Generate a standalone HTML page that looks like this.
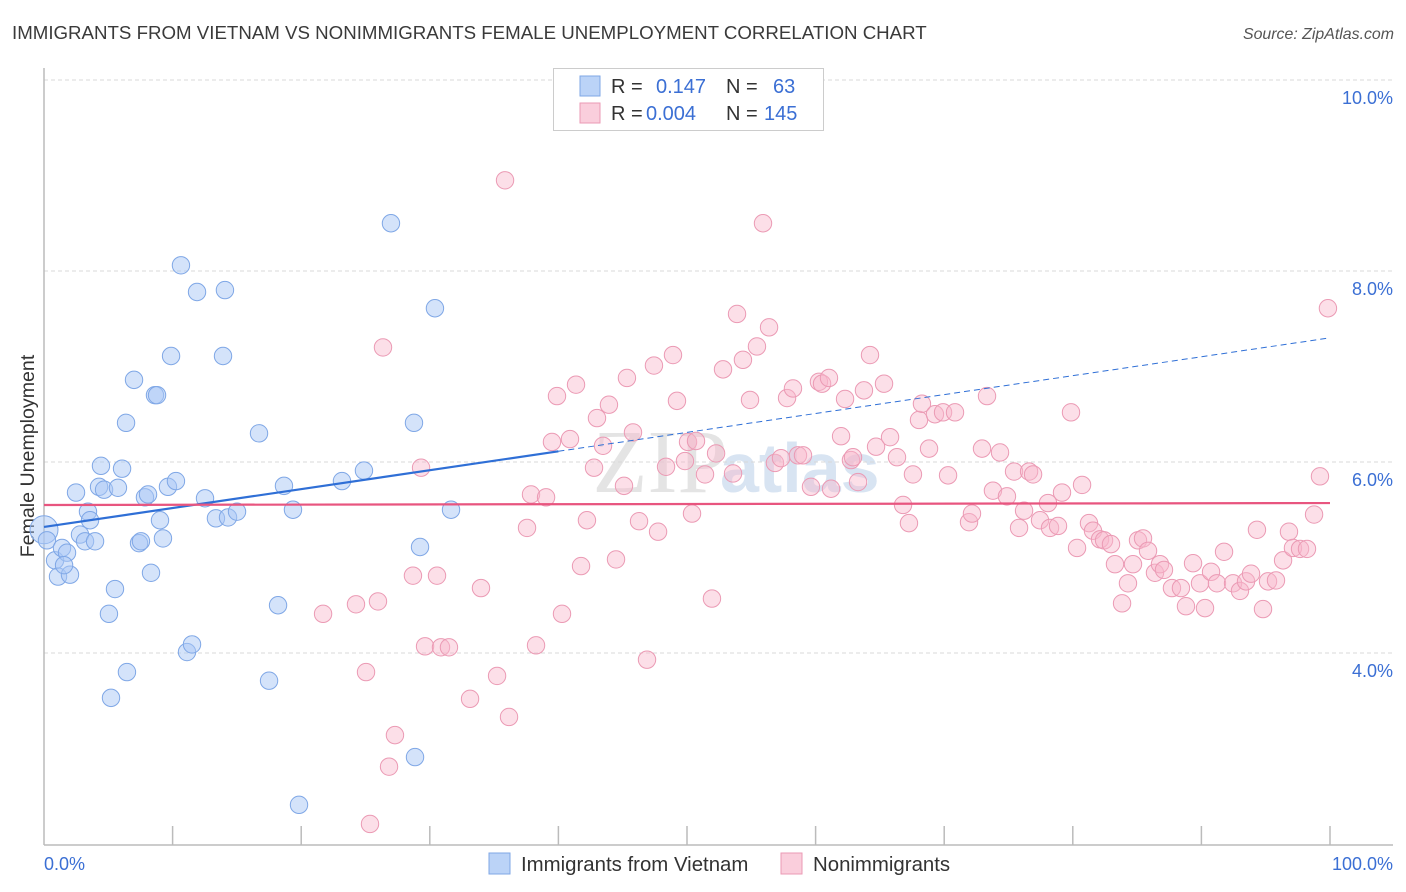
<!DOCTYPE html>
<html><head><meta charset="utf-8">
<style>
body{margin:0;background:#fff;width:1406px;height:892px;overflow:hidden;font-family:"Liberation Sans",sans-serif;}
svg{position:absolute;left:0;top:0}
</style></head>
<body>
<svg id="chart" width="1406" height="892"></svg>
<script>
const blueX=[0,.23,.86,1.09,1.40,1.79,2.02,1.56,2.49,2.80,3.19,3.42,3.58,3.97,4.28,4.43,4.67,5.05,5.52,5.75,6.07,6.38,6.45,5.21,7.00,7.39,7.54,7.85,8.09,8.32,8.63,8.79,9.02,9.25,9.64,9.88,10.26,10.65,11.12,11.51,11.90,12.52,13.37,13.92,14.07,14.31,15.01,16.72,17.50,18.20,18.66,19.36,19.83,23.17,24.88,26.98,28.77,28.85,29.24,30.40,31.65];
const blueY=[5.29,5.18,4.97,4.80,5.10,5.05,4.82,4.92,5.68,5.24,5.17,5.48,5.39,5.17,5.74,5.96,5.71,4.41,4.67,5.73,5.93,6.41,3.80,3.53,6.86,5.15,5.17,5.63,5.66,4.84,6.70,6.70,5.39,5.20,5.74,7.11,5.80,8.06,4.01,4.09,7.78,5.62,5.41,7.11,7.80,5.42,5.48,6.30,3.71,4.50,5.75,5.50,2.41,5.80,5.91,8.50,6.41,2.91,5.11,7.61,5.50];
const pinkX=[21.70,24.26,25.04,25.35,25.97,26.36,26.83,27.29,28.69,29.32,29.63,30.56,30.87,31.49,33.13,33.98,35.23,35.85,36.16,37.56,37.87,38.26,39.04,39.50,39.89,40.28,40.90,41.37,41.76,42.22,42.77,43.00,43.47,43.93,44.48,45.10,45.33,45.80,46.27,46.89,47.43,47.75,48.37,48.91,49.22,49.84,50.08,50.39,50.70,51.40,51.94,52.26,52.80,53.58,53.89,54.35,54.90,55.44,55.91,56.38,56.84,57.31,57.78,58.24,58.63,59.02,59.64,60.26,60.50,61.04,61.20,61.98,62.29,62.75,62.91,63.30,63.76,64.23,64.70,65.32,65.79,66.33,66.80,67.26,67.57,68.04,68.27,68.82,69.28,69.91,70.30,70.84,71.93,72.16,72.94,73.33,73.79,74.34,74.88,75.43,75.82,76.21,76.60,76.91,77.45,78.07,78.23,78.85,79.16,79.86,80.33,80.72,81.26,81.57,82.12,82.43,82.97,83.28,83.83,84.29,84.68,85.07,85.46,85.85,86.39,86.78,87.09,87.71,88.41,88.80,89.35,89.89,90.28,90.75,91.21,91.76,92.46,93.00,93.47,93.86,94.32,94.79,95.18,95.80,96.35,96.81,97.12,97.67,98.21,98.76,99.22,99.84];
const pinkY=[4.41,4.51,3.80,2.21,4.54,7.20,2.81,3.14,4.81,5.94,4.07,4.81,4.06,4.06,3.52,4.68,3.76,8.95,3.33,5.31,5.66,4.08,5.63,6.21,6.69,4.41,6.24,6.81,4.91,5.39,5.94,6.46,6.17,6.60,4.98,5.75,6.88,6.31,5.38,3.93,7.01,5.27,5.95,7.12,6.64,6.01,6.21,5.46,6.22,5.87,4.57,6.09,6.97,5.88,7.55,7.07,6.65,7.21,8.50,7.41,5.99,6.04,6.67,6.77,6.07,6.07,5.74,6.84,6.82,6.88,5.72,6.27,6.66,6.02,6.05,5.79,6.75,7.12,6.16,6.82,6.26,6.05,5.55,5.36,5.87,6.44,6.61,6.14,6.50,6.52,5.86,6.52,5.37,5.46,6.14,6.69,5.70,6.10,5.64,5.90,5.31,5.49,5.90,5.87,5.39,5.57,5.31,5.33,5.68,6.52,5.10,5.76,5.36,5.28,5.19,5.18,5.14,4.93,4.52,4.73,4.93,5.18,5.20,5.07,4.84,4.93,4.87,4.68,4.68,4.49,4.94,4.73,4.47,4.85,4.73,5.06,4.73,4.65,4.75,4.83,5.29,4.46,4.75,4.76,4.97,5.27,5.10,5.09,5.09,5.45,5.85,7.61];
const yTicks=[4,6,8,10];
const yTickLabels=["4.0%","6.0%","8.0%","10.0%"];
const blueLine=[5.32,7.30]; // y at 0% and 100%
const pinkLine=[5.55,5.57];

const NS="http://www.w3.org/2000/svg";
const svg=document.getElementById('chart');
const X=v=>44+v*12.86;
const Y=v=>80+(10-v)*95.5;
function mk(t,a,p){const e=document.createElementNS(NS,t);for(const k in a)e.setAttribute(k,a[k]);(p||svg).appendChild(e);return e;}

let t=mk('text',{x:12,y:39,'font-size':18.7,fill:'#3a3a3a'});t.textContent='IMMIGRANTS FROM VIETNAM VS NONIMMIGRANTS FEMALE UNEMPLOYMENT CORRELATION CHART';


t=mk('text',{x:1394,y:39,'font-size':15.9,fill:'#555','text-anchor':'end','font-style':'italic'});t.textContent='Source: ZipAtlas.com';



t=mk('text',{x:660,y:492,'font-size':90,fill:'#e4e4e4','text-anchor':'middle','font-family':'Liberation Serif, serif'});t.textContent='ZIP';


t=mk('text',{x:720,y:492,'font-size':70,fill:'#d8e4f2','font-weight':'bold'});t.textContent='atlas';



yTicks.forEach((v,i)=>{
  const g=mk('line',{x1:44,x2:1393,y1:Y(v),y2:Y(v),stroke:'#d8d8d8','stroke-dasharray':'4,3'});
  
  
  const l=mk('text',{x:1393,y:Y(v)+24,'font-size':18,fill:'#3b6fd4','text-anchor':'end'});l.textContent=yTickLabels[i];
  
  
});
let a=mk('line',{x1:44,x2:44,y1:68,y2:845,stroke:'#bbb','stroke-width':1.5});


a=mk('line',{x1:44,x2:1393,y1:845,y2:845,stroke:'#bbb','stroke-width':1.5});


for(let i=1;i<=10;i++){const tk=mk('line',{x1:X(i*10),x2:X(i*10),y1:826,y2:845,stroke:'#bbb','stroke-width':1.5});

}
t=mk('text',{x:44,y:870,'font-size':18,fill:'#3b6fd4'});t.textContent='0.0%';


t=mk('text',{x:1393,y:870,'font-size':18,fill:'#3b6fd4','text-anchor':'end'});t.textContent='100.0%';


t=mk('text',{x:34,y:456,'font-size':19.6,fill:'#333','text-anchor':'middle',transform:'rotate(-90 34 456)'});t.textContent='Female Unemployment';



pinkX.forEach((v,i)=>{const c=mk('circle',{cx:X(v),cy:Y(pinkY[i]),r:8.7,fill:'rgba(248,185,205,0.45)',stroke:'#eb9ab4','stroke-width':1});

});
blueX.forEach((v,i)=>{const c=mk('circle',{cx:X(v),cy:Y(blueY[i]),r:i==0?14:8.7,fill:'rgba(170,200,245,0.5)',stroke:'#7fa7e6','stroke-width':1});

});

const by=x=>blueLine[0]+(blueLine[1]-blueLine[0])*x/100;
let l=mk('line',{x1:X(0),y1:Y(by(0)),x2:X(40),y2:Y(by(40)),stroke:'#2f6fd6','stroke-width':2.2});


l=mk('line',{x1:X(40),y1:Y(by(40)),x2:X(100),y2:Y(by(100)),stroke:'#2f6fd6','stroke-width':1,'stroke-dasharray':'6,4'});


l=mk('line',{x1:X(0),y1:Y(pinkLine[0]),x2:X(100),y2:Y(pinkLine[1]),stroke:'#e8557f','stroke-width':2.2});



let b=mk('rect',{x:553.5,y:68.5,width:270,height:62,fill:'#fff',stroke:'#ccc'});


const rows=[['rgba(170,200,245,0.8)','#7fa7e6','0.147','63'],['rgba(248,185,205,0.7)','#eb9ab4','0.004','145']];
rows.forEach((r,i)=>{const y=86+i*27;
  const s=mk('rect',{x:580,y:y-10,width:20,height:20,fill:r[0],stroke:r[1]});
  
  
  const tx=mk('text',{x:611,y:y+7,'font-size':20,fill:'#333'});
  
  
  tx.innerHTML='R = <tspan fill="#3b6fd4" x="'+(i?646:656)+'">'+r[2]+'</tspan><tspan x="726">N = </tspan><tspan fill="#3b6fd4" x="'+(i?764:773)+'">'+r[3]+'</tspan>';
});
[['Immigrants from Vietnam',489,'rgba(170,200,245,0.8)','#7fa7e6'],['Nonimmigrants',781,'rgba(248,185,205,0.7)','#eb9ab4']].forEach(r=>{
  const s=mk('rect',{x:r[1],y:853,width:21,height:21,fill:r[2],stroke:r[3]});
  
  
  const tx=mk('text',{x:r[1]+32,y:871,'font-size':20.4,fill:'#333'});tx.textContent=r[0];
  
  
});
</script>
</body></html>
